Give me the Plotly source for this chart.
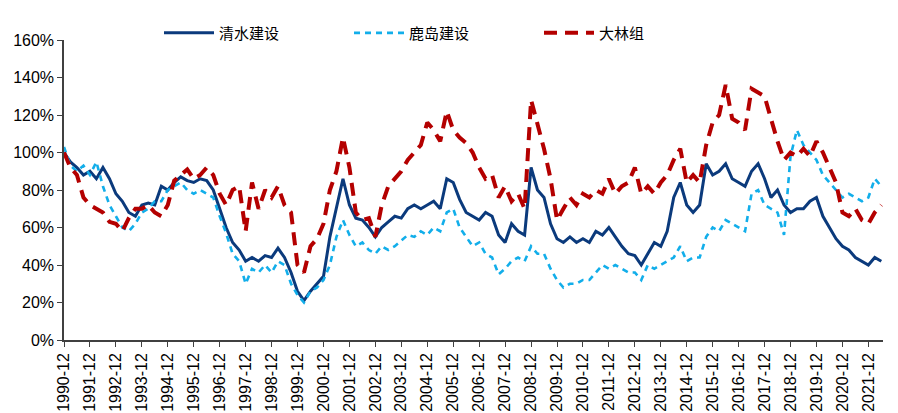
import plotly.graph_objects as go
import pandas as pd

# quarterly observations, Dec 1990 .. Jun 2022 (relative price, %)
dates = pd.date_range("1990-12-01", "2022-06-01", freq="3MS")

shimizu = [100, 95, 92, 88, 90, 86, 92, 86, 78, 74, 68, 66, 72, 73, 72, 82, 80, 84, 87, 85,
           84, 86, 85, 80, 70, 60, 52, 48, 42, 44, 42, 45, 44, 49, 44, 36, 26, 21, 26, 30,
           34, 55, 70, 86, 72, 65, 64, 60, 55, 60, 63, 66, 65, 70, 72, 70, 72, 74, 70, 86,
           84, 75, 68, 66, 64, 68, 66, 56, 52, 62, 58, 56, 92, 80, 76, 62, 54, 52, 55, 52,
           54, 52, 58, 56, 60, 55, 50, 46, 45, 40, 46, 52, 50, 58, 76, 84, 72, 68, 72, 94,
           88, 90, 94, 86, 84, 82, 90, 94, 86, 76, 80, 72, 68, 70, 70, 74, 76, 66, 60, 54,
           50, 48, 44, 42, 40, 44, 42]
kajima = [103, 93, 90, 93, 88, 95, 82, 72, 66, 60, 58, 62, 68, 70, 74, 74, 80, 82, 84, 80,
          78, 80, 78, 76, 66, 57, 46, 42, 30, 38, 36, 40, 36, 42, 40, 30, 24, 20, 26, 28,
          32, 40, 55, 64, 56, 50, 52, 48, 46, 50, 48, 50, 53, 56, 55, 58, 56, 60, 58, 68,
          70, 60, 55, 50, 52, 46, 44, 35, 38, 42, 44, 42, 50, 46, 46, 38, 32, 28, 30, 30,
          32, 32, 36, 40, 38, 40, 38, 36, 36, 32, 40, 38, 40, 42, 44, 50, 42, 44, 44, 55,
          60, 58, 64, 62, 60, 58, 78, 80, 72, 70, 68, 56, 98, 112, 104, 100, 96, 88, 84, 80,
          76, 78, 76, 74, 76, 86, 82]
obayashi = [100, 92, 88, 76, 72, 70, 68, 63, 62, 58, 65, 70, 70, 72, 68, 66, 72, 85, 88, 91,
            86, 88, 92, 88, 78, 72, 80, 82, 58, 84, 70, 80, 76, 82, 72, 68, 40, 36, 50, 54,
            62, 80, 90, 108, 92, 68, 64, 65, 55, 72, 82, 86, 90, 96, 100, 104, 116, 112, 106, 122,
            112, 108, 105, 100, 92, 86, 88, 76, 82, 74, 78, 70, 128, 115, 102, 86, 64, 70, 76, 72,
            78, 76, 80, 78, 86, 78, 82, 84, 92, 78, 82, 78, 84, 88, 96, 102, 84, 88, 84, 104,
            116, 120, 136, 118, 116, 112, 134, 132, 130, 118, 106, 96, 100, 98, 102, 98, 106, 100, 92, 84,
            68, 66, 70, 64, 62, 68, 72]

names = ["清水建设", "鹿岛建设", "大林组"]
tick_years = list(range(1990, 2022))
tick_vals = [f"{y}-12-01" for y in tick_years]
tick_text = [f"{y}-12" for y in tick_years]
y_ticks = [0, 20, 40, 60, 80, 100, 120, 140, 160]

fig = go.Figure()
fig.add_trace(go.Scatter(x=dates, y=shimizu, name=names[0], mode="lines",
                         line=dict(color="#0B3A7C", width=3)))
fig.add_trace(go.Scatter(x=dates, y=kajima, name=names[1], mode="lines",
                         line=dict(color="#12AEEA", width=2.6, dash="6px,5px")))
fig.add_trace(go.Scatter(x=dates, y=obayashi, name=names[2], mode="lines",
                         line=dict(color="#B40000", width=4, dash="13px,8px")))

fig.update_layout(
    width=890, height=405,
    margin=dict(l=56, r=15, t=32, b=73, autoexpand=False),
    paper_bgcolor="white", plot_bgcolor="white",
    font=dict(family="Liberation Sans, Arial", size=16, color="#000"),
    showlegend=True,
    legend=dict(orientation="h", x=0.116, xanchor="left", y=1.023, yanchor="middle",
                entrywidth=125, entrywidthmode="pixels", itemwidth=50,
                font=dict(family="Noto Sans CJK SC", size=15, color="#000"),
                bgcolor="rgba(0,0,0,0)", traceorder="normal"),
)
fig.update_xaxes(type="date", range=["1990-12-01", "2022-06-25"],
                 tickmode="array", tickvals=tick_vals, ticktext=tick_text,
                 tickangle=-90, ticks="outside", ticklen=5, tickcolor="#404040",
                 showline=True, linecolor="#404040", linewidth=1.5,
                 showgrid=False, zeroline=False, tickfont=dict(size=16))
fig.update_yaxes(range=[0, 160], tickmode="array", tickvals=y_ticks,
                 ticktext=[f"{v}%" for v in y_ticks],
                 ticks="outside", ticklen=5, tickcolor="#404040",
                 showline=True, linecolor="#404040", linewidth=1.5,
                 showgrid=False, zeroline=False, tickfont=dict(size=16))

fig.write_html("out.html")
